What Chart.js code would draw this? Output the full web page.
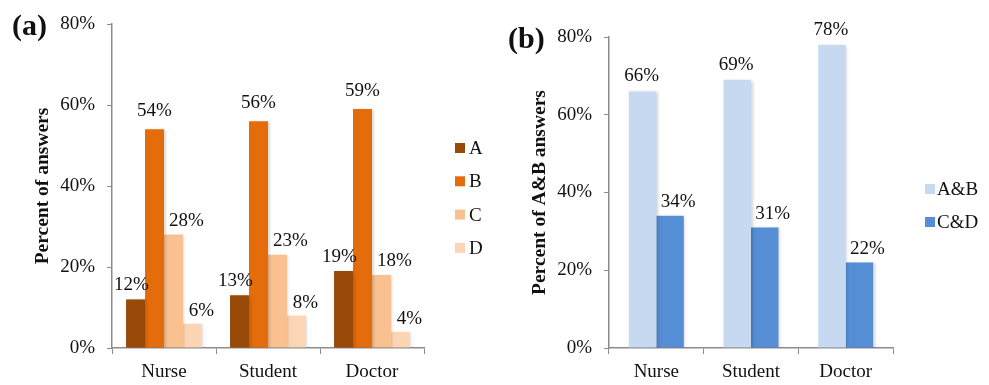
<!DOCTYPE html>
<html>
<head>
<meta charset="utf-8">
<script src="https://cdn.jsdelivr.net/npm/chart.js@4/dist/chart.umd.min.js"></script>
<style>
  html, body { margin: 0; padding: 0; background: #fff; }
  #wrap { position: relative; width: 989px; height: 385px; }
  #chartA { position: absolute; left: 0; top: 0; }
  #chartB { position: absolute; left: 500px; top: 0; }
</style>
</head>
<body>
<div id="wrap">
  <canvas id="chartA" width="500" height="385"></canvas>
  <canvas id="chartB" width="489" height="385"></canvas>
</div>
<script>
// panel (a)
const groups = ['Nurse', 'Student', 'Doctor'];
const answerA = [12, 13, 19];
const answerB = [54, 56, 59];
const answerC = [28, 23, 18];
const answerD = [6, 8, 4];

// panel (b)
const answerAB = [66, 69, 78];
const answerCD = [34, 31, 22];

const yTicks = [0, 20, 40, 60, 80];

const serif = '"Liberation Serif", "Times New Roman", serif';
const axisGray = '#8c8c8c';

// percent labels above bars + small legend + panel letter
const extrasPlugin = {
  id: 'extras',
  beforeDatasetsDraw(chart) {
    const ctx = chart.ctx;
    ctx.save();
    ctx.shadowColor = 'rgba(0,0,0,0.18)';
    ctx.shadowBlur = 3;
    ctx.shadowOffsetX = 1.5;
    ctx.shadowOffsetY = 1;
  },
  afterDatasetsDraw(chart) {
    chart.ctx.restore();
  },
  afterDraw(chart) {
    const ctx = chart.ctx;
    const o = chart.options.plugins.extras;
    ctx.save();
    ctx.fillStyle = '#111';
    ctx.font = '19px ' + serif;
    ctx.textAlign = 'center';
    ctx.textBaseline = 'alphabetic';
    chart.data.datasets.forEach((ds, i) => {
      chart.getDatasetMeta(i).data.forEach((bar, j) => {
        ctx.fillText(ds.data[j] + '%', bar.x + ds.labelDx, bar.y - ds.labelGap);
      });
    });

    // legend
    ctx.textAlign = 'left';
    ctx.textBaseline = 'middle';
    chart.data.datasets.forEach((ds, i) => {
      const y = o.legendTop + i * o.legendStep;
      ctx.fillStyle = ds.backgroundColor;
      ctx.fillRect(o.legendX, y - 5, 10, 10);
      ctx.fillStyle = '#111';
      ctx.fillText(ds.label, o.legendX + o.legendTextGap, y + 1);
    });

    // panel letter
    ctx.font = 'bold 30px ' + serif;
    ctx.fillText(o.panel, o.panelX, chart.chartArea.top + 3);
    ctx.restore();
  }
};

function makeScales(title) {
  return {
    x: {
      grid: { display: true, drawOnChartArea: false, drawTicks: true, tickLength: 6, color: axisGray, offset: true },
      border: { color: axisGray, width: 1.5 },
      ticks: { color: '#111', font: { family: serif, size: 19 }, padding: 7 },
      afterFit: s => { s.height = 37; }
    },
    y: {
      min: 0,
      max: 80,
      afterBuildTicks: s => { s.ticks = yTicks.map(v => ({ value: v })); },
      grid: { display: true, drawOnChartArea: false, drawTicks: true, tickLength: 5, color: axisGray },
      border: { color: axisGray, width: 1.5 },
      ticks: { color: '#111', font: { family: serif, size: 19 }, padding: 12, callback: v => v + '%' },
      title: { display: true, text: title, color: '#111', font: { family: serif, size: 19.5, weight: 'bold' }, padding: { top: 4, bottom: 0 } },
      afterFit: s => { s.width = 85; }
    }
  };
}

new Chart(document.getElementById('chartA'), {
  type: 'bar',
  data: {
    labels: groups,
    datasets: [
      { label: 'A', data: answerA, backgroundColor: '#984807', labelDx: -4, labelGap: 9 },
      { label: 'B', data: answerB, backgroundColor: '#e46c0a', labelDx: 0, labelGap: 13 },
      { label: 'C', data: answerC, backgroundColor: '#fac090', labelDx: 13, labelGap: 9 },
      { label: 'D', data: answerD, backgroundColor: '#fcd5b5', labelDx: 9, labelGap: 8 }
    ]
  },
  options: {
    responsive: false,
    animation: false,
    devicePixelRatio: 1,
    layout: { padding: { left: 27, right: 76, top: 24, bottom: 0 } },
    datasets: { bar: { categoryPercentage: 0.73, barPercentage: 1.0 } },
    scales: makeScales('Percent of answers'),
    plugins: {
      legend: { display: false },
      tooltip: { enabled: false },
      extras: { legendX: 455, legendTextGap: 14, legendTop: 148, legendStep: 33.3, panel: '(a)', panelX: 12 }
    }
  },
  plugins: [extrasPlugin]
});

new Chart(document.getElementById('chartB'), {
  type: 'bar',
  data: {
    labels: groups,
    datasets: [
      { label: 'A&B', data: answerAB, backgroundColor: '#c6d9f1', labelDx: -1, labelGap: 10 },
      { label: 'C&D', data: answerCD, backgroundColor: '#558ed5', labelDx: 8, labelGap: 8.5 }
    ]
  },
  options: {
    responsive: false,
    animation: false,
    devicePixelRatio: 1,
    layout: { padding: { left: 24, right: 96, top: 37, bottom: 0 } },
    datasets: { bar: { categoryPercentage: 0.58, barPercentage: 1.0 } },
    scales: makeScales('Percent of A&B answers'),
    plugins: {
      legend: { display: false },
      tooltip: { enabled: false },
      extras: { legendX: 425, legendTextGap: 12, legendTop: 189, legendStep: 33, panel: '(b)', panelX: 8 }
    }
  },
  plugins: [extrasPlugin]
});
</script>
</body>
</html>
